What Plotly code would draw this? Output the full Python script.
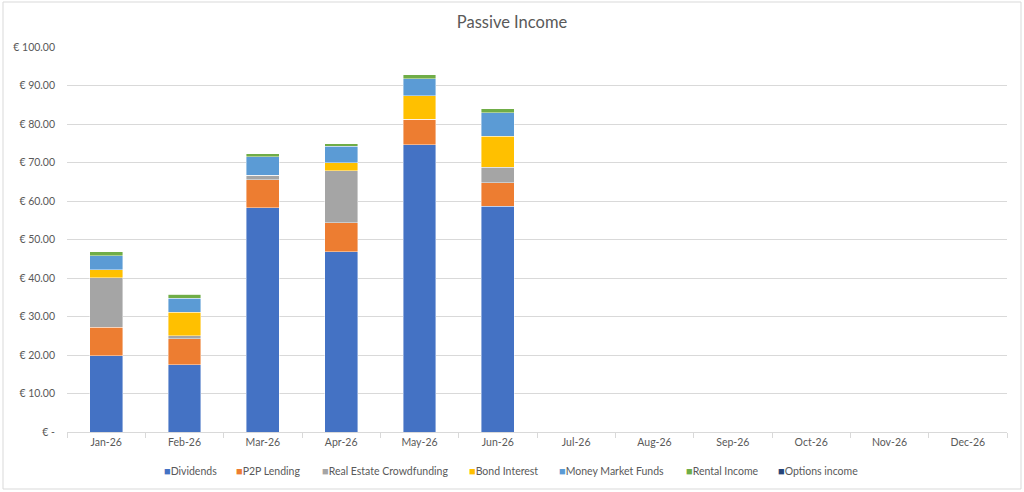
import plotly.graph_objects as go

months = ["Jan-26", "Feb-26", "Mar-26", "Apr-26", "May-26", "Jun-26",
          "Jul-26", "Aug-26", "Sep-26", "Oct-26", "Nov-26", "Dec-26"]

dividends = [19.8, 17.5, 58.3, 46.8, 74.6, 58.6, None, None, None, None, None, None]
p2p_lending = [7.4, 6.7, 7.2, 7.6, 6.65, 6.2, None, None, None, None, None, None]
real_estate = [12.9, 0.8, 1.2, 13.5, 0.0, 3.95, None, None, None, None, None, None]
bond_interest = [2.1, 6.1, 0.0, 2.1, 6.05, 8.05, None, None, None, None, None, None]
money_market = [3.6, 3.7, 4.8, 4.2, 4.5, 6.1, None, None, None, None, None, None]
rental_income = [1.0, 1.0, 0.8, 0.7, 1.0, 1.1, None, None, None, None, None, None]
options_income = [0.0, 0.0, 0.0, 0.0, 0.0, 0.0, None, None, None, None, None, None]

y_ticks = [0, 10, 20, 30, 40, 50, 60, 70, 80, 90, 100]
y_labels = ["€ -", "€ 10.00", "€ 20.00", "€ 30.00", "€ 40.00", "€ 50.00",
            "€ 60.00", "€ 70.00", "€ 80.00", "€ 90.00", "€ 100.00"]

series = [
    ("Dividends", dividends, "#4472C4"),
    ("P2P Lending", p2p_lending, "#ED7D31"),
    ("Real Estate Crowdfunding", real_estate, "#A5A5A5"),
    ("Bond Interest", bond_interest, "#FFC000"),
    ("Money Market Funds", money_market, "#5B9BD5"),
    ("Rental Income", rental_income, "#70AD47"),
    ("Options income", options_income, "#264478"),
]

# pixel x of each legend swatch, Excel-style legend row under the axis
legend_x = [162, 234, 320, 467, 557, 684, 776]

fig = go.Figure()
for name, values, color in series:
    fig.add_trace(go.Bar(
        x=months,
        y=values,
        name=name,
        showlegend=False,
        marker=dict(color=color, line=dict(color="rgba(255,255,255,0.7)", width=0.6)),
    ))

# plot area spans x 67..1007, y 47..432 in the 1024x492 window
L, R, T, B = 67, 17, 47, 60
pw = 1024 - L - R
ph = 492 - T - B

annotations = []
for (name, _, color), px in zip(series, legend_x):
    annotations.append(dict(
        xref="paper", yref="paper",
        x=(px - L) / pw, y=(432 - 470) / ph,
        xanchor="left", yanchor="middle",
        showarrow=False,
        text=f"<span style='color:{color};font-size:11px'>■</span>{name}",
        font=dict(size=10.5, color="#595959"),
    ))

fig.update_layout(
    barmode="stack",
    bargap=0.58,
    width=1024,
    height=492,
    margin=dict(l=L, r=R, t=T, b=B),
    paper_bgcolor="white",
    plot_bgcolor="white",
    font=dict(family="Lato, Open Sans, sans-serif", size=11, color="#595959"),
    title=dict(text="Passive Income", x=(512 - L) / pw, xref="paper", xanchor="center",
               y=1 - 22 / 492, yanchor="middle", font=dict(size=16.5, color="#595959")),
    showlegend=False,
    annotations=annotations,
    xaxis=dict(
        type="category",
        automargin=False,
        showline=True,
        linecolor="#d9d9d9",
        linewidth=1,
        ticks="outside",
        tickson="boundaries",
        ticklen=5,
        tickcolor="#d9d9d9",
        showgrid=False,
        tickfont=dict(size=10.5, color="#595959"),
    ),
    yaxis=dict(
        range=[0, 100],
        automargin=False,
        tickvals=y_ticks,
        ticktext=y_labels,
        showgrid=True,
        gridcolor="#d9d9d9",
        gridwidth=1,
        zeroline=False,
        showline=False,
        ticks="",
        ticklabelstandoff=11,
        tickfont=dict(size=10.5, color="#595959"),
    ),
    shapes=[dict(
        type="rect", xref="paper", yref="paper",
        x0=(3 - L) / pw, x1=(1021 - L) / pw,
        y0=(432 - 489) / ph, y1=(432 - 2) / ph,
        line=dict(color="#d9d9d9", width=1),
        layer="below",
    )],
)

fig.write_html("out.html", config={"displayModeBar": False},
               post_script="document.body.style.margin='0';")
